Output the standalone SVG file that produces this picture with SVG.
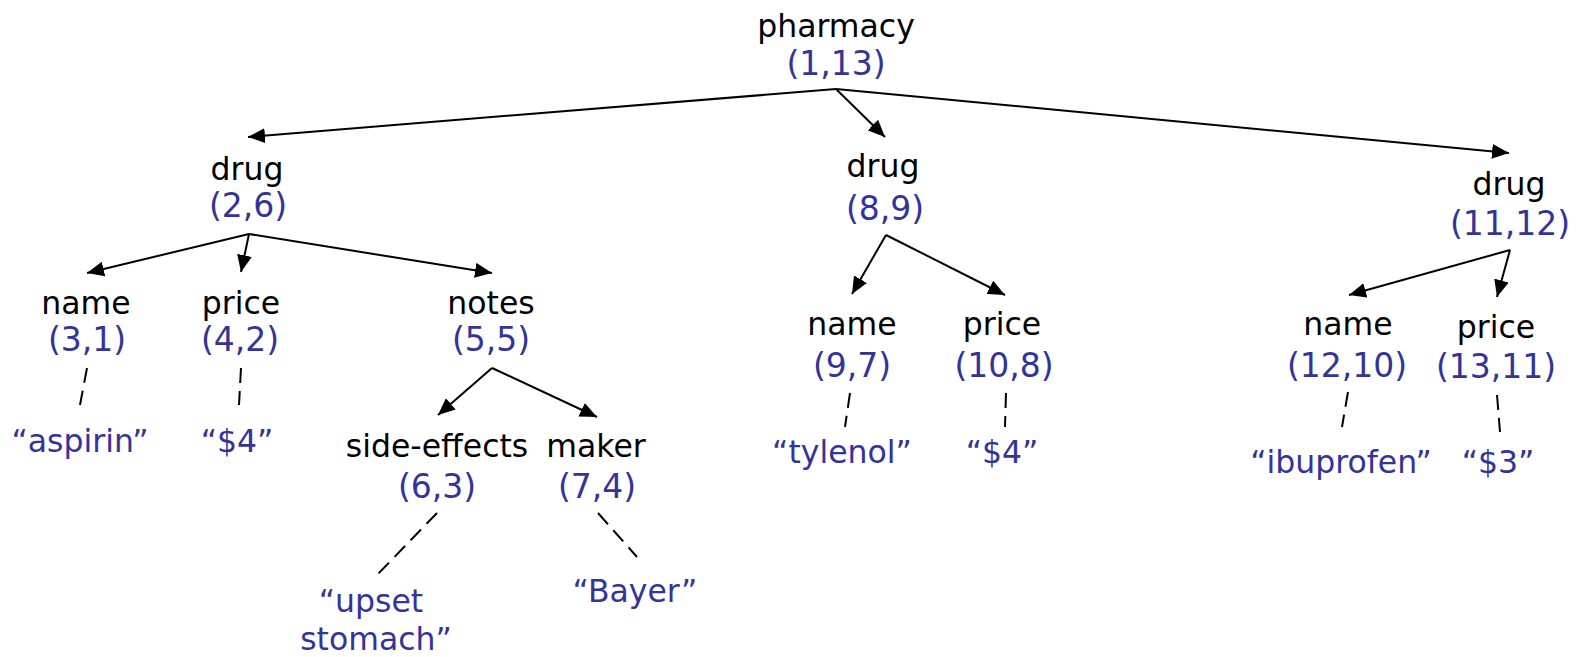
<svg xmlns="http://www.w3.org/2000/svg" width="1578" height="657" viewBox="0 0 1578 657">
  <defs>
    <marker id="arrow" markerUnits="userSpaceOnUse" markerWidth="18" markerHeight="15" refX="17" refY="7.5" orient="auto">
      <path d="M0,0 L17,7.5 L0,15 z" fill="#000"/>
    </marker>
    <style>
      text { font-family: "DejaVu Sans", Verdana, sans-serif; font-size: 31.5px; text-anchor: middle; }
      .tag { fill: #000; }
      .pos { fill: #333399; font-size: 33px; }
      .val { fill: #333399; }
      .edge { stroke: #000; stroke-width: 2; fill: none; marker-end: url(#arrow); }
      .text-link { stroke: #000; stroke-width: 2; fill: none; stroke-dasharray: 15 8; }
    </style>
  </defs>
  <rect width="1578" height="657" fill="#fff"/>

  <!-- element-to-element edges and element-to-text links -->
  <g id="connectors">
    <line class="edge" x1="836" y1="89" x2="248" y2="137"/>
    <line class="edge" x1="836" y1="89" x2="885" y2="137"/>
    <line class="edge" x1="836" y1="89" x2="1509" y2="153"/>

    <line class="edge" x1="249" y1="234" x2="87" y2="273"/>
    <line class="edge" x1="249" y1="234" x2="241" y2="272"/>
    <line class="edge" x1="249" y1="234" x2="492" y2="273"/>

    <line class="edge" x1="492" y1="368" x2="438" y2="415"/>
    <line class="edge" x1="492" y1="368" x2="597" y2="417"/>

    <line class="edge" x1="886" y1="235" x2="852" y2="294"/>
    <line class="edge" x1="886" y1="235" x2="1005" y2="295"/>

    <line class="edge" x1="1510" y1="250" x2="1349" y2="295"/>
    <line class="edge" x1="1510" y1="250" x2="1497" y2="297"/>

    <line class="text-link" x1="87" y1="368" x2="80" y2="405"/>
    <line class="text-link" x1="241" y1="368" x2="239" y2="405"/>
    <line class="text-link" x1="437" y1="513" x2="376" y2="576"/>
    <line class="text-link" x1="598" y1="513" x2="637" y2="557"/>
    <line class="text-link" x1="850" y1="393" x2="845" y2="427"/>
    <line class="text-link" x1="1006" y1="393" x2="1005" y2="427"/>
    <line class="text-link" x1="1348" y1="392" x2="1342" y2="427"/>
    <line class="text-link" x1="1497" y1="395" x2="1500" y2="432"/>
  </g>

  <g id="pharmacy">
    <text class="tag" x="836" y="37">pharmacy</text>
    <text class="pos" x="836" y="75">(1,13)</text>
  </g>

  <g id="drug-2-6">
    <text class="tag" x="247" y="180">drug</text>
    <text class="pos" x="248" y="217">(2,6)</text>
  </g>
  <g id="name-3-1">
    <text class="tag" x="86" y="314">name</text>
    <text class="pos" x="87" y="351">(3,1)</text>
  </g>
  <g id="price-4-2">
    <text class="tag" x="241" y="314">price</text>
    <text class="pos" x="240" y="351">(4,2)</text>
  </g>
  <g id="notes-5-5">
    <text class="tag" x="491" y="314">notes</text>
    <text class="pos" x="491" y="351">(5,5)</text>
  </g>
  <g id="side-effects-6-3">
    <text class="tag" x="437" y="457">side-effects</text>
    <text class="pos" x="437" y="498">(6,3)</text>
  </g>
  <g id="maker-7-4">
    <text class="tag" x="596" y="457">maker</text>
    <text class="pos" x="597" y="498">(7,4)</text>
  </g>
  <g id="text-aspirin">
    <text class="val" x="80" y="452">“aspirin”</text>
  </g>
  <g id="text-price-4">
    <text class="val" x="237" y="452">“$4”</text>
  </g>
  <g id="text-upset-stomach">
    <text class="val" x="371" y="612">“upset</text>
    <text class="val" x="376" y="650">stomach”</text>
  </g>
  <g id="text-bayer">
    <text class="val" x="635" y="602">“Bayer”</text>
  </g>

  <g id="drug-8-9">
    <text class="tag" x="883" y="177">drug</text>
    <text class="pos" x="885" y="220">(8,9)</text>
  </g>
  <g id="name-9-7">
    <text class="tag" x="852" y="335">name</text>
    <text class="pos" x="852" y="377">(9,7)</text>
  </g>
  <g id="price-10-8">
    <text class="tag" x="1002" y="335">price</text>
    <text class="pos" x="1004" y="377">(10,8)</text>
  </g>
  <g id="text-tylenol">
    <text class="val" x="842" y="463">“tylenol”</text>
  </g>
  <g id="text-price-8">
    <text class="val" x="1002" y="463">“$4”</text>
  </g>

  <g id="drug-11-12">
    <text class="tag" x="1509" y="195">drug</text>
    <text class="pos" x="1510" y="235">(11,12)</text>
  </g>
  <g id="name-12-10">
    <text class="tag" x="1348" y="335">name</text>
    <text class="pos" x="1347" y="377">(12,10)</text>
  </g>
  <g id="price-13-11">
    <text class="tag" x="1496" y="338">price</text>
    <text class="pos" x="1496" y="378">(13,11)</text>
  </g>
  <g id="text-ibuprofen">
    <text class="val" x="1341" y="473">“ibuprofen”</text>
  </g>
  <g id="text-price-11">
    <text class="val" x="1498" y="473">“$3”</text>
  </g>
</svg>
